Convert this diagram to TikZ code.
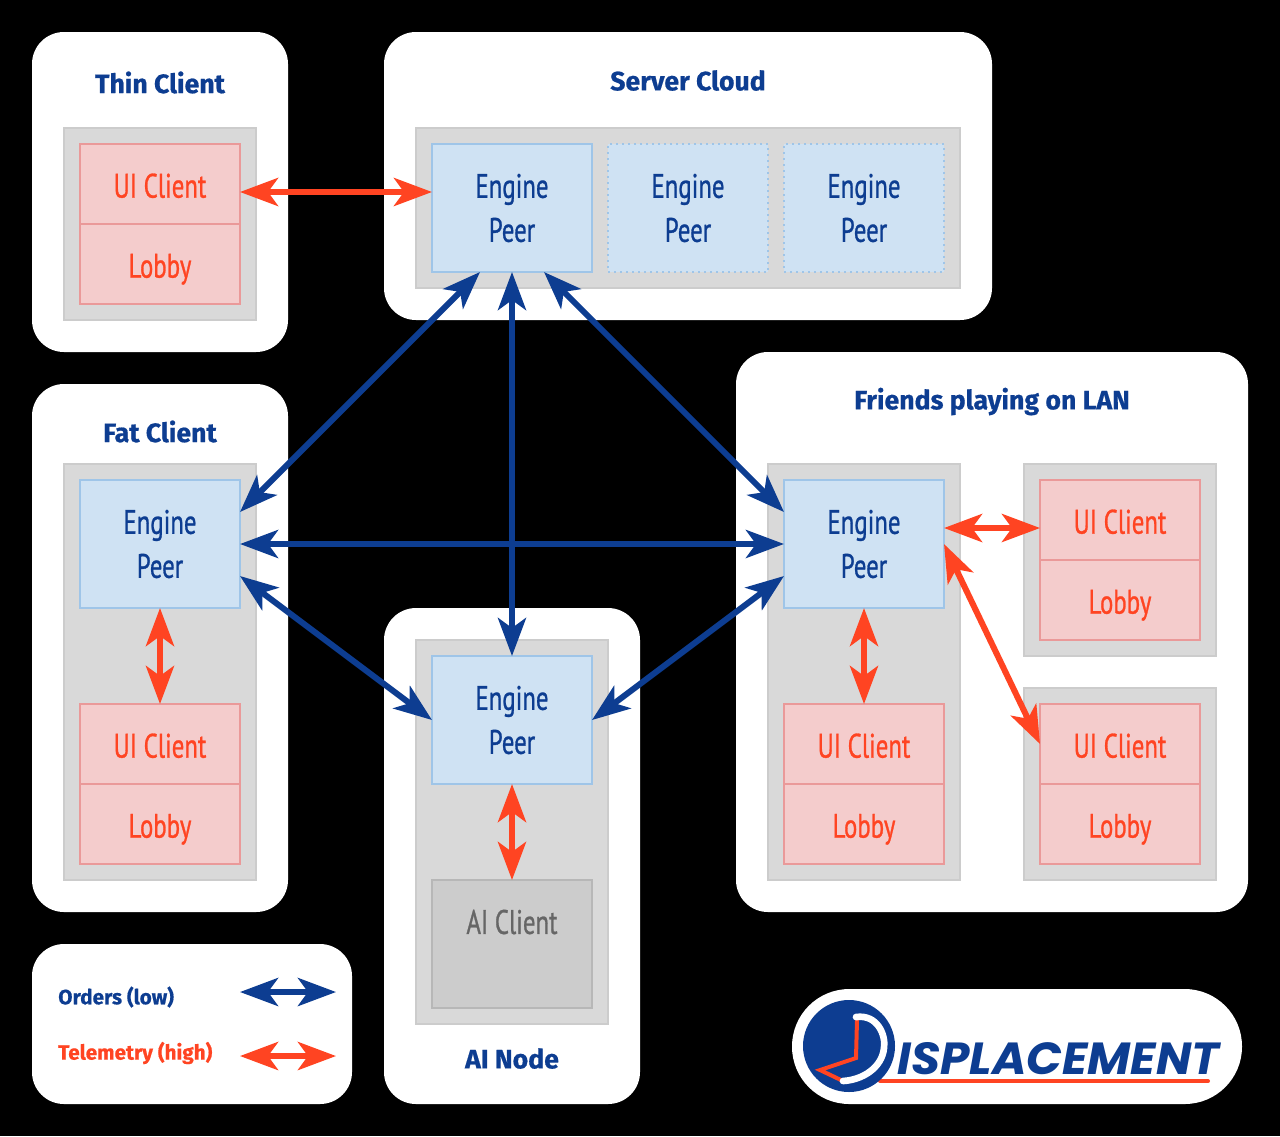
\documentclass[tikz,border=0pt]{standalone}
\usepackage{fontspec}
\usepackage{graphicx}
\usetikzlibrary{arrows.meta}
\newfontfamily\cond[FakeStretch=0.73,FakeBold=0.8]{PT Sans}
\newfontfamily\head[FakeStretch=1.0,FakeBold=0.6]{Fira Sans}
\newfontfamily\logofont{Poppins}
\definecolor{dblue}{HTML}{0D3D91}
\definecolor{dred}{HTML}{FF4422}
\definecolor{lblue}{HTML}{CFE2F3}
\definecolor{bblue}{HTML}{9FC5E8}
\definecolor{lred}{HTML}{F4CCCC}
\definecolor{bred}{HTML}{EA9999}
\definecolor{lgray}{HTML}{D9D9D9}
\definecolor{bgray}{HTML}{CCCCCC}
\definecolor{mgray}{HTML}{CCCCCC}
\definecolor{mbgray}{HTML}{B7B7B7}
\tikzset{
 x=0.75pt,y=-0.75pt,
 cloudbox/.style={rectangle,rounded corners=24pt,fill=white,draw=none,outer sep=0pt,inner sep=0pt},
 graybox/.style={rectangle,fill=lgray,draw=bgray,line width=1.5pt,outer sep=0pt,inner sep=0pt},
 txt/.style={font=\cond\fontsize{25.5}{33}\selectfont,align=center,inner sep=0pt,outer sep=0pt},
 engine/.style={txt,rectangle,fill=lblue,draw=bblue,line width=1.5pt,text=dblue,minimum width=120pt,minimum height=96pt},
 ghost/.style={engine,dash pattern=on 1.5pt off 3pt},
 uibox/.style={txt,rectangle,fill=lred,draw=bred,line width=1.5pt,text=dred,minimum width=120pt,minimum height=60pt,text height=20.5pt,text depth=0pt},
 aibox/.style={txt,rectangle,fill=mgray,draw=mbgray,line width=1.5pt,text=black!60,minimum width=120pt,minimum height=96pt},
 title/.style={font=\head\bfseries\fontsize{20}{24}\selectfont,text=dblue,inner sep=0pt},
 legendtxt/.style={font=\head\bfseries\fontsize{15.5}{18}\selectfont,inner sep=0pt,anchor=west},
 link/.style={<->,>={Stealth[length=28.5pt,width=21pt,inset=7.5pt]},line width=4.5pt},
 orders/.style={link,draw=dblue,color=dblue},
 telemetry/.style={link,draw=dred,color=dred},
}
\begin{document}
\begin{tikzpicture}
\useasboundingbox (0,0) rectangle (1280,1136);
\fill[black] (0,0) rectangle (1280,1136);
% containers
\node[cloudbox,minimum width=192pt,minimum height=240pt] (thin) at (160,192) {};
\node[cloudbox,minimum width=456pt,minimum height=216pt] (server) at (688,176) {};
\node[cloudbox,minimum width=192pt,minimum height=396pt] (fat) at (160,648) {};
\node[cloudbox,minimum width=192pt,minimum height=372pt] (ai) at (512,856) {};
\node[cloudbox,minimum width=384pt,minimum height=420pt] (lan) at (992,632) {};
\node[cloudbox,minimum width=240pt,minimum height=120pt] (legend) at (192,1024) {};
\node[cloudbox,rounded corners=43pt,minimum width=337.5pt,minimum height=86.25pt] (logo) at (1017,1046.5) {};
% gray panels
\node[graybox,minimum width=144pt,minimum height=144pt] (thinP) at (160,224) {};
\node[graybox,minimum width=408pt,minimum height=120pt] (serverP) at (688,208) {};
\node[graybox,minimum width=144pt,minimum height=312pt] (fatP) at (160,672) {};
\node[graybox,minimum width=144pt,minimum height=288pt] (aiP) at (512,832) {};
\node[graybox,minimum width=144pt,minimum height=312pt] (lanP) at (864,672) {};
\node[graybox,minimum width=144pt,minimum height=144pt] (lanA) at (1120,560) {};
\node[graybox,minimum width=144pt,minimum height=144pt] (lanB) at (1120,784) {};
% titles
\node[title] (t1) at (160,82.5) {Thin Client};
\node[title] (t2) at (688,80.5) {Server Cloud};
\node[title] (t3) at (160,431.5) {Fat Client};
\node[title] (t4) at (992,401.5) {Friends playing on LAN};
\node[title] (t5) at (512,1058.5) {AI Node};
% thin client
\node[uibox] (thinU) at (160,184) {UI Client};
\node[uibox] (thinL) at (160,264) {Lobby};
% server
\node[engine] (srvE) at (512,208) {Engine\\Peer};
\node[ghost] (srvE2) at (688,208) {Engine\\Peer};
\node[ghost] (srvE3) at (864,208) {Engine\\Peer};
% fat
\node[engine] (fatE) at (160,544) {Engine\\Peer};
\node[uibox] (fatU) at (160,744) {UI Client};
\node[uibox] (fatL) at (160,824) {Lobby};
% AI
\node[engine] (aiE) at (512,720) {Engine\\Peer};
\node[aibox] (aiC) at (512,944) {AI Client\\\phantom{Peer}};
% LAN
\node[engine] (lanE) at (864,544) {Engine\\Peer};
\node[uibox] (lanU) at (864,744) {UI Client};
\node[uibox] (lanL) at (864,824) {Lobby};
\node[uibox] (aU) at (1120,520) {UI Client};
\node[uibox] (aL) at (1120,600) {Lobby};
\node[uibox] (bU) at (1120,744) {UI Client};
\node[uibox] (bL) at (1120,824) {Lobby};
% order links
\draw[orders] ([xshift=-24pt]srvE.south) -- ([yshift=24pt]fatE.east);
\draw[orders] (srvE.south) -- (aiE.north);
\draw[orders] ([xshift=24pt]srvE.south) -- ([yshift=24pt]lanE.west);
\draw[orders] (fatE.east) -- (lanE.west);
\draw[orders] ([yshift=-24pt]fatE.east) -- (aiE.west);
\draw[orders] ([yshift=-24pt]lanE.west) -- (aiE.east);
% telemetry links
\draw[telemetry] ([yshift=-6pt]thinU.east) -- ([yshift=12pt]srvE.west);
\draw[telemetry] (fatE.south) -- (fatU.north);
\draw[telemetry] (aiE.south) -- (aiC.north);
\draw[telemetry] (lanE.south) -- (lanU.north);
\draw[telemetry] ([yshift=12pt]lanE.east) -- ([yshift=-6pt]aU.west);
\draw[telemetry] (lanE.east) -- (bU.west);
% legend
\node[legendtxt,text=dblue] (lg1) at (58,997) {Orders (low)};
\node[legendtxt,text=dred] (lg2) at (58,1053) {Telemetry (high)};
\coordinate (o1) at (240,992); \coordinate (o2) at (336,992);
\coordinate (r1) at (240,1056); \coordinate (r2) at (336,1056);
\draw[orders] (o1) -- (o2);
\draw[telemetry] (r1) -- (r2);
% logo
\coordinate (lc) at (849,1046);
\coordinate (u1) at (880,1081); \coordinate (u2) at (1208,1081);
\draw[dred,line width=3pt,line cap=round] (u1) -- (u2);
\fill[dblue] (lc) circle[radius=34.5pt];
\coordinate (p1) at (857,1020); \coordinate (p2) at (856,1058);
\coordinate (p3) at (820,1070); \coordinate (p4) at (843,1081);
\draw[dred,line width=3pt,line join=miter] (p1) -- (p2) -- (p3) -- (p4);
\draw[white,line width=5pt,line cap=round] (856,1017) .. controls (878,1014) and (886,1036) .. (884,1048) .. controls (882,1068) and (862,1080) .. (843,1081);
\node[inner sep=0pt,anchor=west,text=dblue] (logotext) at (897,1059) {\resizebox{241.5pt}{24pt}{\logofont\bfseries\itshape ISPLACEMENT}};
\end{tikzpicture}
\end{document}
